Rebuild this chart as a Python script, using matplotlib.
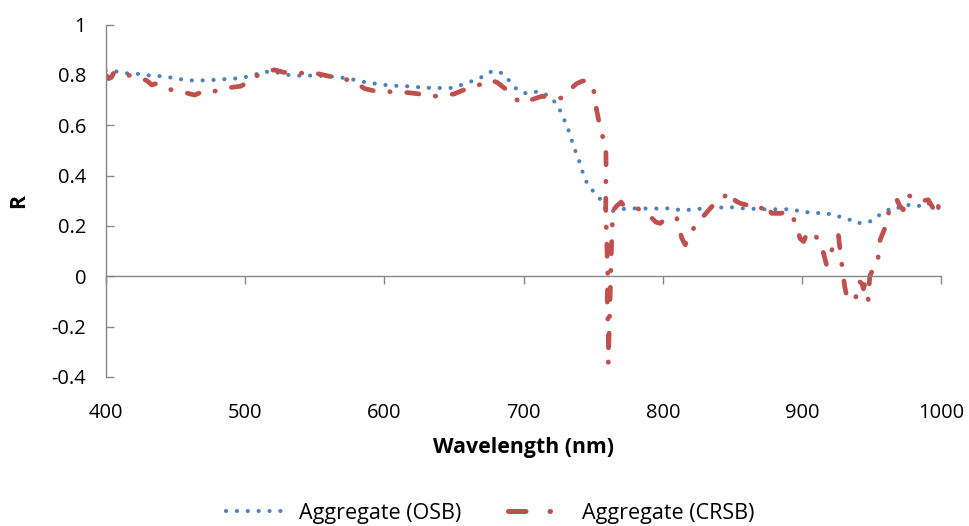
import matplotlib
matplotlib.use("Agg")
import matplotlib.pyplot as plt
from matplotlib.lines import Line2D

# Aggregate reflectance, OSB retrieval
osb_wl = [400, 405.5, 412, 419, 426.5, 431, 436, 443, 451, 458, 466, 474, 481, 490,
          498, 506.5, 513.5, 521, 529, 537, 546, 555, 563, 571, 579, 587, 595, 603,
          611, 619, 627, 634, 642, 649.5, 657, 664, 671, 678, 685, 690, 695.5, 702.5,
          711, 718.5, 724.5, 728, 731.5, 734, 737, 740, 742.5, 745.5, 750.5, 756,
          759.5, 773.5, 782, 790, 798, 806, 814, 822, 830.5, 838.5, 846, 853.5, 861,
          869, 877.5, 886, 893.5, 900.5, 908, 914.5, 921.5, 928.5, 934.5, 939, 942.5,
          948, 953.5, 959.5, 966, 971, 977.5, 986.5, 989.5, 994, 999.5]
osb_r = [0.818, 0.817, 0.806, 0.806, 0.802, 0.798, 0.797, 0.792, 0.786, 0.778, 0.778,
         0.778, 0.782, 0.784, 0.788, 0.800, 0.812, 0.812, 0.801, 0.797, 0.797, 0.796,
         0.793, 0.788, 0.780, 0.770, 0.764, 0.758, 0.756, 0.754, 0.750, 0.748, 0.748,
         0.748, 0.764, 0.777, 0.794, 0.817, 0.806, 0.775, 0.740, 0.725, 0.735, 0.715,
         0.680, 0.635, 0.594, 0.549, 0.500, 0.456, 0.412, 0.370, 0.334, 0.300, 0.255,
         0.269, 0.270, 0.269, 0.269, 0.270, 0.261, 0.266, 0.270, 0.270, 0.277, 0.270,
         0.270, 0.266, 0.266, 0.266, 0.266, 0.253, 0.256, 0.247, 0.248, 0.233, 0.224,
         0.210, 0.213, 0.215, 0.237, 0.256, 0.277, 0.270, 0.286, 0.277, 0.290, 0.286,
         0.264]

# Aggregate reflectance, CRSB retrieval
crsb_wl = [400, 402, 404, 406, 408, 412, 419, 425, 430, 433, 436, 441, 447, 453, 460,
           464, 468, 472, 478, 484, 490, 497, 500, 504, 508, 514, 521, 528, 537, 545,
           552, 560, 567, 574, 582, 586, 590, 594, 600, 609, 616, 624, 630, 636, 643,
           650, 657, 664, 670, 676, 681, 687, 692, 697, 705, 713, 720, 727, 733, 738,
           742, 745, 748, 750, 752.5, 755, 757, 759, 759.2, 759, 759, 759.5, 760,
           760.5, 760, 760.5, 761, 760.8, 762, 763, 764, 767, 770, 772, 777, 782, 786,
           791, 795, 798, 803, 810, 813.5, 816, 819, 822, 826, 830, 834, 838.5, 843,
           848, 852, 855.5, 862.5, 867, 871, 874, 878, 885, 889, 892.5, 896, 898.5,
           901, 904, 909, 912.5, 915, 917.5, 920, 922.5, 926, 928.5, 930.5, 932, 934,
           936, 938, 940, 941, 943, 944, 945, 947.5, 948.5, 951, 954, 956, 960, 963,
           968, 970, 972.5, 976, 980, 984.5, 990.5, 993, 995.5, 997, 999.5]
crsb_r = [0.800, 0.785, 0.790, 0.810, 0.805, 0.800, 0.797, 0.790, 0.775, 0.760, 0.765,
          0.750, 0.741, 0.735, 0.725, 0.720, 0.730, 0.725, 0.735, 0.741, 0.750, 0.755,
          0.765, 0.775, 0.795, 0.810, 0.820, 0.810, 0.807, 0.807, 0.805, 0.795, 0.788,
          0.780, 0.760, 0.745, 0.740, 0.735, 0.735, 0.731, 0.730, 0.725, 0.718, 0.715,
          0.720, 0.724, 0.740, 0.750, 0.765, 0.780, 0.770, 0.744, 0.720, 0.690, 0.700,
          0.715, 0.710, 0.708, 0.740, 0.765, 0.775, 0.777, 0.765, 0.750, 0.658, 0.590,
          0.550, 0.530, 0.436, 0.350, 0.257, 0.170, 0.085, -0.007, -0.090, -0.180,
          -0.270, -0.346, -0.100, 0.100, 0.260, 0.280, 0.295, 0.280, 0.270, 0.269,
          0.255, 0.237, 0.215, 0.210, 0.233, 0.230, 0.152, 0.125, 0.160, 0.190, 0.224,
          0.244, 0.270, 0.297, 0.310, 0.337, 0.300, 0.290, 0.280, 0.285, 0.270, 0.290,
          0.250, 0.250, 0.260, 0.244, 0.200, 0.150, 0.138, 0.177, 0.165, 0.137, 0.098,
          0.045, 0.090, 0.118, 0.164, 0.045, -0.040, -0.080, -0.094, -0.094, -0.094,
          -0.050, -0.020, -0.030, -0.050, -0.030, -0.094, 0.000, 0.030, 0.050, 0.145,
          0.200, 0.277, 0.304, 0.280, 0.264, 0.323, 0.310, 0.297, 0.304, 0.280, 0.257,
          0.290, 0.248]

series_labels = ["Aggregate (OSB)", "Aggregate (CRSB)"]
x_ticks = [400, 500, 600, 700, 800, 900, 1000]
y_ticks = [-0.4, -0.2, 0, 0.2, 0.4, 0.6, 0.8, 1]
x_label = "Wavelength (nm)"
y_label = "R"

BLUE = "#4F81BD"
RED = "#C0504D"
AXIS = "#868686"

plt.rcParams["font.family"] = ["Open Sans", "DejaVu Sans"]

fig = plt.figure(figsize=(9.70, 5.26), dpi=100)
ax = fig.add_axes([0.1090, 0.2833, 0.8616, 0.6701])

blue_style = dict(color=BLUE, lw=3.0, linestyle=(0, (0.01, 2.6)),
                  dash_capstyle="round", solid_capstyle="round")
ax.plot(osb_wl, osb_r, **blue_style)
ax.plot(crsb_wl, crsb_r, color=RED, lw=3.4, linestyle=(0, (2.6, 3.5, 0.1, 3.5)),
        dash_capstyle="round", solid_capstyle="round")

ax.set_xlim(400, 1000)
ax.set_ylim(-0.4, 1)
ax.set_xticks(x_ticks)
ax.set_yticks(y_ticks)
ax.set_yticklabels([f"{v:g}" for v in y_ticks])

for side in ("right", "bottom"):
    ax.spines[side].set_visible(False)
ax.spines["top"].set_position(("data", 0))
for side in ("left", "top"):
    ax.spines[side].set_color(AXIS)
    ax.spines[side].set_linewidth(1.0)

ax.tick_params(axis="x", top=True, bottom=False, labeltop=False, labelbottom=True,
               direction="in", length=6, width=1.0, color=AXIS, pad=19,
               labelsize=14.5, labelcolor="#000000")
ax.tick_params(axis="y", left=True, right=False, direction="in", length=6,
               width=1.0, color=AXIS, pad=14, labelsize=14.5)

ax.set_xlabel(x_label, fontsize=15.3, fontweight="bold", labelpad=10)
ax.set_ylabel(y_label, fontsize=15.3, fontweight="bold", labelpad=16)

# legend keys: dotted blue, long-dash-dot red
handles = [
    Line2D([], [], **blue_style),
    Line2D([], [], color=RED, lw=3.6, linestyle=(0, (3.5, 4.8, 0.1, 8.0)),
           dash_capstyle="round"),
]
fig.legend(handles, series_labels, loc="lower center",
           bbox_to_anchor=(0.505, -0.033), ncol=2, frameon=False, fontsize=15.5,
           handlelength=3.0, handletextpad=0.4, columnspacing=2.2)

fig.savefig("out.png", dpi=100)
